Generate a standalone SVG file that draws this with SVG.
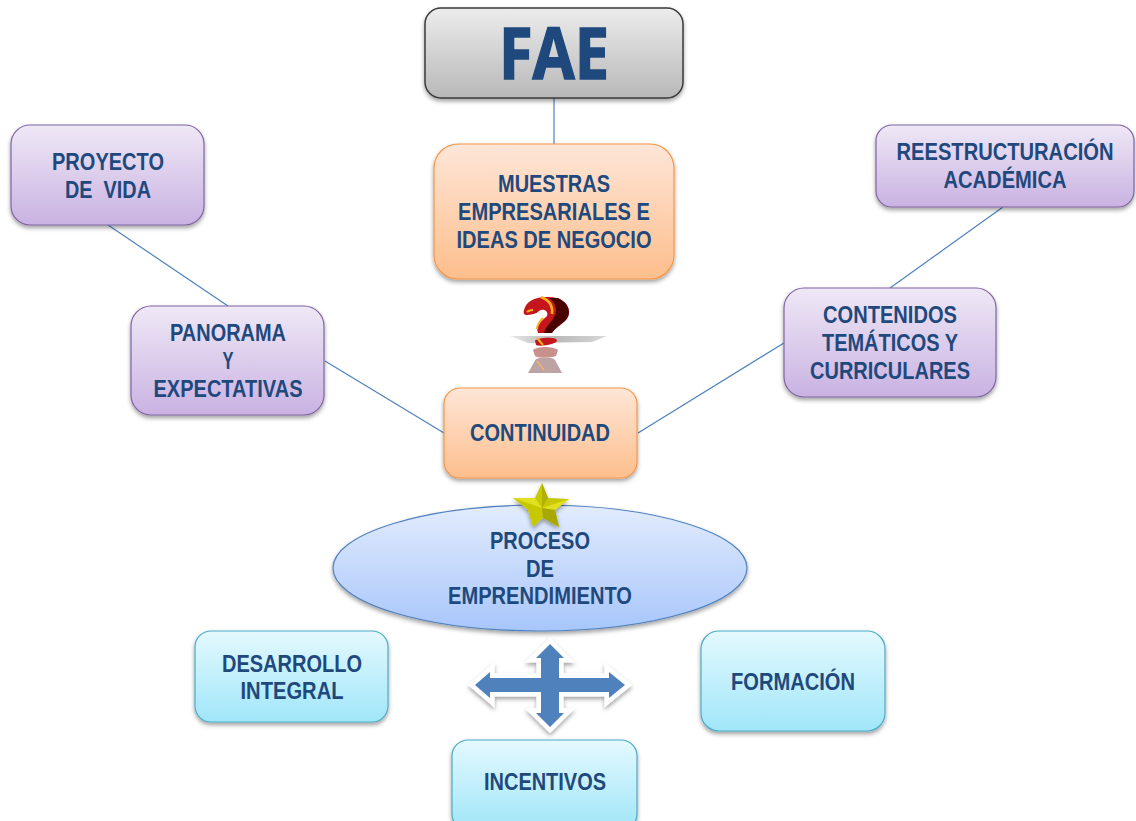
<svg xmlns="http://www.w3.org/2000/svg" width="1136" height="821" viewBox="0 0 1136 821">
<defs>
<linearGradient id="gGray" x1="0" y1="0" x2="0" y2="1"><stop offset="0" stop-color="#ececec"/><stop offset="1" stop-color="#b8b8b8"/></linearGradient>
<linearGradient id="gOrange" x1="0" y1="0" x2="0" y2="1"><stop offset="0" stop-color="#fee6d8"/><stop offset="1" stop-color="#fdbe8c"/></linearGradient>
<linearGradient id="gPurple" x1="0" y1="0" x2="0" y2="1"><stop offset="0" stop-color="#efe8f6"/><stop offset="1" stop-color="#c9b2e2"/></linearGradient>
<linearGradient id="gCyan" x1="0" y1="0" x2="0" y2="1"><stop offset="0" stop-color="#e4f9fe"/><stop offset="1" stop-color="#a0e6f9"/></linearGradient>
<linearGradient id="gBlue" x1="0" y1="0" x2="0" y2="1"><stop offset="0" stop-color="#e2ecfd"/><stop offset="1" stop-color="#a8c6fb"/></linearGradient>
<linearGradient id="gPlat" x1="0" y1="0" x2="1" y2="0"><stop offset="0" stop-color="#e8e8e8"/><stop offset=".45" stop-color="#b8b8b8"/><stop offset="1" stop-color="#d8d8d8"/></linearGradient>
<filter id="sh" x="-10%" y="-10%" width="120%" height="125%"><feDropShadow dx="0" dy="2.5" stdDeviation="2.2" flood-color="#000" flood-opacity=".38"/></filter>
<filter id="soft" x="-10%" y="-10%" width="120%" height="120%"><feGaussianBlur stdDeviation=".6"/></filter>
<path id="cross" d="M550 644L564 658H559V678H609V672L625 685L609 698V692H559V713H564L550 727L536 713H541V692H490V698L475 685L490 672V678H541V658H536Z"/>
</defs>
<style>
text{font-family:"Liberation Sans",Arial,sans-serif;font-weight:700;fill:#1f497d;text-anchor:middle;font-size:23px}
.o{fill:url(#gOrange);stroke:#f79646;stroke-width:1.2}
.p{fill:url(#gPurple);stroke:#8064a2;stroke-width:1.2}
.c{fill:url(#gCyan);stroke:#4bacc6;stroke-width:1.2}
.n{filter:url(#sh)}
#connectors line{stroke:#4f81bd;stroke-width:1.2}
</style>
<rect width="1136" height="821" fill="#fff"/>
<g id="connectors">
<line x1="554" y1="98" x2="554" y2="144"/>
<line x1="108" y1="225" x2="228" y2="306"/>
<line x1="325" y1="361" x2="444" y2="433"/>
<line x1="1003" y1="207" x2="890" y2="288"/>
<line x1="784" y1="343" x2="638" y2="433"/>
</g>
<g id="fae"><rect class="n" x="425" y="8" width="258" height="90" rx="16" fill="url(#gGray)" stroke="#3a3a3a" stroke-width="1.5"/><text x="554" y="79" style="font-size:72px;font-family:'Open Sans',sans-serif;stroke:#1f497d;stroke-width:1.6" textLength="110" lengthAdjust="spacingAndGlyphs">FAE</text></g>
<g id="muestras"><rect class="n o" x="434" y="144" width="240" height="135" rx="24"/><text x="554" y="192" textLength="112" lengthAdjust="spacingAndGlyphs">MUESTRAS</text><text x="554" y="220" textLength="192" lengthAdjust="spacingAndGlyphs">EMPRESARIALES E</text><text x="554" y="248" textLength="195" lengthAdjust="spacingAndGlyphs">IDEAS DE NEGOCIO</text></g>
<g id="proyecto"><rect class="n p" x="11" y="125" width="193" height="100" rx="19"/><text x="108" y="170" textLength="112" lengthAdjust="spacingAndGlyphs">PROYECTO</text><text x="108" y="198" xml:space="preserve" textLength="86" lengthAdjust="spacingAndGlyphs">DE  VIDA</text></g>
<g id="reestructuracion"><rect class="n p" x="876" y="125" width="258" height="82" rx="16"/><text transform="translate(1005 160) scale(.875 1)">REESTRUCTURACIÓN</text><text x="1005" y="188" textLength="123" lengthAdjust="spacingAndGlyphs">ACADÉMICA</text></g>
<g id="panorama"><rect class="n p" x="131" y="306" width="193" height="109" rx="20"/><text x="228" y="341" textLength="116" lengthAdjust="spacingAndGlyphs">PANORAMA</text><text x="228" y="369" textLength="11" lengthAdjust="spacingAndGlyphs">Y</text><text x="228" y="397" textLength="149" lengthAdjust="spacingAndGlyphs">EXPECTATIVAS</text></g>
<g id="contenidos"><rect class="n p" x="784" y="288" width="212" height="109" rx="20"/><text x="890" y="323" textLength="134" lengthAdjust="spacingAndGlyphs">CONTENIDOS</text><text x="890" y="351" textLength="136" lengthAdjust="spacingAndGlyphs">TEMÁTICOS Y</text><text x="890" y="379" textLength="160" lengthAdjust="spacingAndGlyphs">CURRICULARES</text></g>
<g id="pregunta" filter="url(#soft)">
<path d="M510 336L607 336L592 342L528 343Z" fill="url(#gPlat)"/>
<path d="M524 310C526 302 534 297 546 297C560 296 569 303 569 312C569 322 557 325 552 333L538 333C535 325 543 320 547 316C549 311 543 308 539 311C536 314 534 314 527 315C524 315 523 313 524 310Z" fill="#c4161c"/>
<path d="M558 298C566 302 569 307 569 312C569 322 557 325 552 333L544 333C546 324 556 320 556 310C556 305 553 301 549 298Z" fill="#4a0606"/>
<path d="M541 297C549 300 553 306 552 314" fill="none" stroke="#f4b21c" stroke-width="2.6"/>
<path d="M527 312C529 310 531 310 533 310M537 329C537 325 540 321 543 318" fill="none" stroke="#f4b21c" stroke-width="2"/>
<path d="M535 341C535 338 555 336 557 340C558 344 540 347 536 345Z" fill="#c4161c"/>
<path d="M537 338L543 345" fill="none" stroke="#f4b21c" stroke-width="2"/>
<path d="M533 350C537 346 553 346 558 350L556 356C550 358 538 358 535 356Z" fill="#c9918c"/>
<path d="M536 359C542 357 552 357 555 360L562 373H528Z" fill="#bda3a3"/>
<path d="M537 361L544 370" fill="none" stroke="#e8b27a" stroke-width="2"/>
</g>
<g id="continuidad"><rect class="n o" x="444" y="388" width="193" height="90" rx="16"/><text x="540" y="441" textLength="140" lengthAdjust="spacingAndGlyphs">CONTINUIDAD</text></g>
<g id="proceso"><ellipse class="n" cx="540" cy="568" rx="207" ry="63" fill="url(#gBlue)" stroke="#4f81bd" stroke-width="1.2"/><text x="540" y="549" textLength="100" lengthAdjust="spacingAndGlyphs">PROCESO</text><text x="540" y="577" textLength="28" lengthAdjust="spacingAndGlyphs">DE</text><text x="540" y="604" textLength="184" lengthAdjust="spacingAndGlyphs">EMPRENDIMIENTO</text></g>
<g id="estrella">
<path d="M542 483L548 498L569 499L555 510L559 527L543 518L533 527L528 510L513 498L535 498Z" fill="#c8c800" filter="url(#sh)"/>
<path d="M542 483L548 498L542 508Z" fill="#b0b000"/><path d="M569 499L555 510L542 508Z" fill="#e0e020"/><path d="M559 527L543 518L542 508L555 510Z" fill="#a8a800"/><path d="M513 498L535 498L542 508Z" fill="#e0e020"/>
</g>
<g id="desarrollo"><rect class="n c" x="195" y="631" width="193" height="91" rx="16"/><text x="292" y="672" textLength="140" lengthAdjust="spacingAndGlyphs">DESARROLLO</text><text x="292" y="699" textLength="103" lengthAdjust="spacingAndGlyphs">INTEGRAL</text></g>
<g id="formacion"><rect class="n c" x="701" y="631" width="184" height="100" rx="18"/><text x="793" y="690" textLength="124" lengthAdjust="spacingAndGlyphs">FORMACIÓN</text></g>
<g id="flecha"><use href="#cross" fill="#fff" stroke="#fff" stroke-width="9" stroke-linejoin="miter" class="n"/><use href="#cross" fill="#4f81bd"/></g>
<g id="incentivos"><rect class="n c" x="452" y="740" width="185" height="90" rx="16"/><text x="545" y="790" textLength="122" lengthAdjust="spacingAndGlyphs">INCENTIVOS</text></g>
</svg>
